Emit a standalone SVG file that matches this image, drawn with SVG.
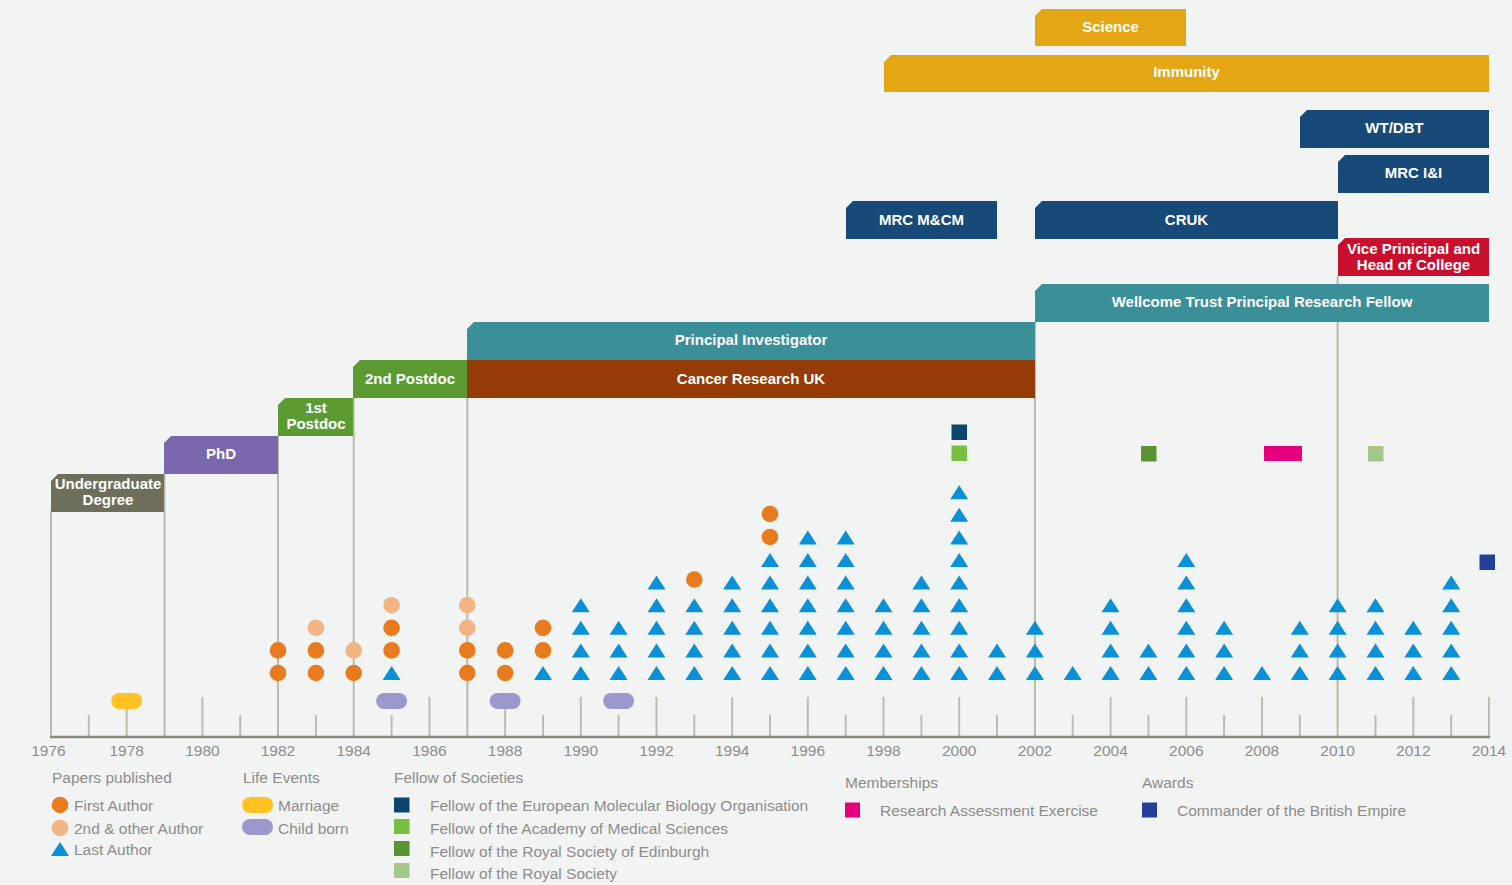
<svg xmlns="http://www.w3.org/2000/svg" width="1512" height="885" viewBox="0 0 1512 885">
<style>
.lbl{font-family:"Liberation Sans",Arial,sans-serif;font-size:15px;font-weight:bold;fill:#ffffff;text-anchor:middle}
.yr{font-family:"Liberation Sans",Arial,sans-serif;font-size:15.5px;fill:#8c8c8c;text-anchor:middle}
.lg{font-family:"Liberation Sans",Arial,sans-serif;font-size:15.5px;fill:#8c8c8c}
.guide{stroke:#b9b9ae;stroke-width:2;fill:none}
.tick{stroke:#bcbcb1;stroke-width:2}
.olive{fill:#6f6e5a}.purple{fill:#7b67ae}.green{fill:#5b9b32}.teal{fill:#3a8f98}.brown{fill:#953b08}
.navy{fill:#174a79}.gold{fill:#e5a615}.crimson{fill:#c8102e}
</style>
<defs>
<path id="tri" d="M0,-7 L9,7 L-9,7 Z" fill="#0a90d6"/>
<circle id="c1" r="8.3" fill="#e87b1e"/>
<circle id="c2" r="8.3" fill="#f3b483"/>
<rect id="pm" x="-15.5" y="-8" width="31" height="16" rx="8" fill="#ffc222"/>
<rect id="pc" x="-15.5" y="-8" width="31" height="16" rx="8" fill="#9b98cd"/>
</defs>
<rect width="1512" height="885" fill="#f2f4f3"/>

<g id="connectors">
<line class="guide" x1="51" y1="511" x2="51" y2="737"/>
<line class="guide" x1="164.5" y1="474" x2="164.5" y2="737"/>
<line class="guide" x1="278" y1="436" x2="278" y2="737"/>
<line class="guide" x1="353.7" y1="398" x2="353.7" y2="737"/>
<line class="guide" x1="467.3" y1="398" x2="467.3" y2="737"/>
<line class="guide" x1="1034.9" y1="322" x2="1034.9" y2="737"/>
<line class="guide" x1="1337.6" y1="276" x2="1337.6" y2="737"/>
</g>

<g id="axis">
<g class="tick">
<line x1="88.8" y1="715" x2="88.8" y2="737"/>
<line x1="126.7" y1="697" x2="126.7" y2="737"/>
<line x1="202.4" y1="697" x2="202.4" y2="737"/>
<line x1="240.2" y1="715" x2="240.2" y2="737"/>
<line x1="315.9" y1="715" x2="315.9" y2="737"/>
<line x1="391.6" y1="715" x2="391.6" y2="737"/>
<line x1="429.4" y1="697" x2="429.4" y2="737"/>
<line x1="505.1" y1="697" x2="505.1" y2="737"/>
<line x1="543" y1="715" x2="543" y2="737"/>
<line x1="580.8" y1="697" x2="580.8" y2="737"/>
<line x1="618.6" y1="715" x2="618.6" y2="737"/>
<line x1="656.5" y1="697" x2="656.5" y2="737"/>
<line x1="694.3" y1="715" x2="694.3" y2="737"/>
<line x1="732.2" y1="697" x2="732.2" y2="737"/>
<line x1="770" y1="715" x2="770" y2="737"/>
<line x1="807.8" y1="697" x2="807.8" y2="737"/>
<line x1="845.7" y1="715" x2="845.7" y2="737"/>
<line x1="883.5" y1="697" x2="883.5" y2="737"/>
<line x1="921.4" y1="715" x2="921.4" y2="737"/>
<line x1="959.2" y1="697" x2="959.2" y2="737"/>
<line x1="997" y1="715" x2="997" y2="737"/>
<line x1="1072.7" y1="715" x2="1072.7" y2="737"/>
<line x1="1110.6" y1="697" x2="1110.6" y2="737"/>
<line x1="1148.4" y1="715" x2="1148.4" y2="737"/>
<line x1="1186.3" y1="697" x2="1186.3" y2="737"/>
<line x1="1224.1" y1="715" x2="1224.1" y2="737"/>
<line x1="1262" y1="697" x2="1262" y2="737"/>
<line x1="1299.8" y1="715" x2="1299.8" y2="737"/>
<line x1="1375.5" y1="715" x2="1375.5" y2="737"/>
<line x1="1413.3" y1="697" x2="1413.3" y2="737"/>
<line x1="1451.2" y1="715" x2="1451.2" y2="737"/>
<line x1="1489" y1="697" x2="1489" y2="737"/>
</g>
<line x1="50" y1="737" x2="1490" y2="737" stroke="#88887a" stroke-width="2.5"/>
<text class="yr" x="48.5" y="756">1976</text>
<text class="yr" x="126.7" y="756">1978</text>
<text class="yr" x="202.4" y="756">1980</text>
<text class="yr" x="278" y="756">1982</text>
<text class="yr" x="353.7" y="756">1984</text>
<text class="yr" x="429.4" y="756">1986</text>
<text class="yr" x="505.1" y="756">1988</text>
<text class="yr" x="580.8" y="756">1990</text>
<text class="yr" x="656.5" y="756">1992</text>
<text class="yr" x="732.2" y="756">1994</text>
<text class="yr" x="807.8" y="756">1996</text>
<text class="yr" x="883.5" y="756">1998</text>
<text class="yr" x="959.2" y="756">2000</text>
<text class="yr" x="1034.9" y="756">2002</text>
<text class="yr" x="1110.6" y="756">2004</text>
<text class="yr" x="1186.3" y="756">2006</text>
<text class="yr" x="1262" y="756">2008</text>
<text class="yr" x="1337.6" y="756">2010</text>
<text class="yr" x="1413.3" y="756">2012</text>
<text class="yr" x="1489" y="756">2014</text>
</g>

<g id="life-events">
<use href="#pm" x="126.7" y="701"/>
<use href="#pc" x="391.6" y="701"/>
<use href="#pc" x="505.1" y="701"/>
<use href="#pc" x="618.6" y="701"/>
</g>

<g id="papers">
<!-- 1982 -->
<use href="#c1" x="278" y="673"/><use href="#c1" x="278" y="650.4"/>
<!-- 1983 -->
<use href="#c1" x="315.9" y="673"/><use href="#c1" x="315.9" y="650.4"/><use href="#c2" x="315.9" y="627.8"/>
<!-- 1984 -->
<use href="#c1" x="353.7" y="673"/><use href="#c2" x="353.7" y="650.4"/>
<!-- 1985 -->
<use href="#tri" x="391.6" y="673"/><use href="#c1" x="391.6" y="650.4"/><use href="#c1" x="391.6" y="627.8"/><use href="#c2" x="391.6" y="605.2"/>
<!-- 1987 -->
<use href="#c1" x="467.3" y="673"/><use href="#c1" x="467.3" y="650.4"/><use href="#c2" x="467.3" y="627.8"/><use href="#c2" x="467.3" y="605.2"/>
<!-- 1988 -->
<use href="#c1" x="505.1" y="673"/><use href="#c1" x="505.1" y="650.4"/>
<!-- 1989 -->
<use href="#tri" x="543" y="673"/><use href="#c1" x="543" y="650.4"/><use href="#c1" x="543" y="627.8"/>
<!-- 1990 -->
<use href="#tri" x="580.8" y="673"/><use href="#tri" x="580.8" y="650.4"/><use href="#tri" x="580.8" y="627.8"/><use href="#tri" x="580.8" y="605.2"/>
<!-- 1991 -->
<use href="#tri" x="618.6" y="673"/><use href="#tri" x="618.6" y="650.4"/><use href="#tri" x="618.6" y="627.8"/>
<!-- 1992 -->
<use href="#tri" x="656.5" y="673"/><use href="#tri" x="656.5" y="650.4"/><use href="#tri" x="656.5" y="627.8"/><use href="#tri" x="656.5" y="605.2"/><use href="#tri" x="656.5" y="582.6"/>
<!-- 1993 -->
<use href="#tri" x="694.3" y="673"/><use href="#tri" x="694.3" y="650.4"/><use href="#tri" x="694.3" y="627.8"/><use href="#tri" x="694.3" y="605.2"/><use href="#c1" x="694.3" y="579.5"/>
<!-- 1994 -->
<use href="#tri" x="732.2" y="673"/><use href="#tri" x="732.2" y="650.4"/><use href="#tri" x="732.2" y="627.8"/><use href="#tri" x="732.2" y="605.2"/><use href="#tri" x="732.2" y="582.6"/>
<!-- 1995 -->
<use href="#tri" x="770" y="673"/><use href="#tri" x="770" y="650.4"/><use href="#tri" x="770" y="627.8"/><use href="#tri" x="770" y="605.2"/><use href="#tri" x="770" y="582.6"/><use href="#tri" x="770" y="560"/><use href="#c1" x="770" y="537"/><use href="#c1" x="770" y="514"/>
<!-- 1996 -->
<use href="#tri" x="807.8" y="673"/><use href="#tri" x="807.8" y="650.4"/><use href="#tri" x="807.8" y="627.8"/><use href="#tri" x="807.8" y="605.2"/><use href="#tri" x="807.8" y="582.6"/><use href="#tri" x="807.8" y="560"/><use href="#tri" x="807.8" y="537.4"/>
<!-- 1997 -->
<use href="#tri" x="845.7" y="673"/><use href="#tri" x="845.7" y="650.4"/><use href="#tri" x="845.7" y="627.8"/><use href="#tri" x="845.7" y="605.2"/><use href="#tri" x="845.7" y="582.6"/><use href="#tri" x="845.7" y="560"/><use href="#tri" x="845.7" y="537.4"/>
<!-- 1998 -->
<use href="#tri" x="883.5" y="673"/><use href="#tri" x="883.5" y="650.4"/><use href="#tri" x="883.5" y="627.8"/><use href="#tri" x="883.5" y="605.2"/>
<!-- 1999 -->
<use href="#tri" x="921.4" y="673"/><use href="#tri" x="921.4" y="650.4"/><use href="#tri" x="921.4" y="627.8"/><use href="#tri" x="921.4" y="605.2"/><use href="#tri" x="921.4" y="582.6"/>
<!-- 2000 -->
<use href="#tri" x="959.2" y="673"/><use href="#tri" x="959.2" y="650.4"/><use href="#tri" x="959.2" y="627.8"/><use href="#tri" x="959.2" y="605.2"/><use href="#tri" x="959.2" y="582.6"/><use href="#tri" x="959.2" y="560"/><use href="#tri" x="959.2" y="537.4"/><use href="#tri" x="959.2" y="514.8"/><use href="#tri" x="959.2" y="492.2"/>
<!-- 2001 -->
<use href="#tri" x="997" y="673"/><use href="#tri" x="997" y="650.4"/>
<!-- 2002 -->
<use href="#tri" x="1034.9" y="673"/><use href="#tri" x="1034.9" y="650.4"/><use href="#tri" x="1034.9" y="627.8"/>
<!-- 2003 -->
<use href="#tri" x="1072.7" y="673"/>
<!-- 2004 -->
<use href="#tri" x="1110.6" y="673"/><use href="#tri" x="1110.6" y="650.4"/><use href="#tri" x="1110.6" y="627.8"/><use href="#tri" x="1110.6" y="605.2"/>
<!-- 2005 -->
<use href="#tri" x="1148.4" y="673"/><use href="#tri" x="1148.4" y="650.4"/>
<!-- 2006 -->
<use href="#tri" x="1186.3" y="673"/><use href="#tri" x="1186.3" y="650.4"/><use href="#tri" x="1186.3" y="627.8"/><use href="#tri" x="1186.3" y="605.2"/><use href="#tri" x="1186.3" y="582.6"/><use href="#tri" x="1186.3" y="560"/>
<!-- 2007 -->
<use href="#tri" x="1224.1" y="673"/><use href="#tri" x="1224.1" y="650.4"/><use href="#tri" x="1224.1" y="627.8"/>
<!-- 2008 -->
<use href="#tri" x="1262" y="673"/>
<!-- 2009 -->
<use href="#tri" x="1299.8" y="673"/><use href="#tri" x="1299.8" y="650.4"/><use href="#tri" x="1299.8" y="627.8"/>
<!-- 2010 -->
<use href="#tri" x="1337.6" y="673"/><use href="#tri" x="1337.6" y="650.4"/><use href="#tri" x="1337.6" y="627.8"/><use href="#tri" x="1337.6" y="605.2"/>
<!-- 2011 -->
<use href="#tri" x="1375.5" y="673"/><use href="#tri" x="1375.5" y="650.4"/><use href="#tri" x="1375.5" y="627.8"/><use href="#tri" x="1375.5" y="605.2"/>
<!-- 2012 -->
<use href="#tri" x="1413.3" y="673"/><use href="#tri" x="1413.3" y="650.4"/><use href="#tri" x="1413.3" y="627.8"/>
<!-- 2013 -->
<use href="#tri" x="1451.2" y="673"/><use href="#tri" x="1451.2" y="650.4"/><use href="#tri" x="1451.2" y="627.8"/><use href="#tri" x="1451.2" y="605.2"/><use href="#tri" x="1451.2" y="582.6"/>
</g>

<g id="honours">
<rect x="951.5" y="424.5" width="15.5" height="15.5" fill="#0b4670"/>
<rect x="951.5" y="445.5" width="15.5" height="15.5" fill="#79bf3f"/>
<rect x="1141" y="446" width="15.5" height="15.5" fill="#5a9432"/>
<rect x="1264" y="446" width="38" height="15" fill="#e6007e"/>
<rect x="1368" y="446" width="15.5" height="15.5" fill="#a6c58b"/>
<rect x="1479.5" y="554.5" width="15.5" height="15.5" fill="#233f99"/>
</g>

<g id="science"><path class="gold" d="M1042,9 H1186 V46 H1035 V16 Z"/><text class="lbl" x="1110.5" y="31.5">Science</text></g>
<g id="immunity"><path class="gold" d="M891,55 H1489 V92 H884 V62 Z"/><text class="lbl" x="1186.5" y="77">Immunity</text></g>
<g id="wt-dbt"><path class="navy" d="M1307,110 H1489 V148 H1300 V117 Z"/><text class="lbl" x="1394.5" y="133">WT/DBT</text></g>
<g id="mrc-ii"><path class="navy" d="M1345,155 H1489 V193 H1338 V162 Z"/><text class="lbl" x="1413.5" y="178">MRC I&amp;I</text></g>
<g id="mrc-mcm"><path class="navy" d="M853,201 H997 V239 H846 V208 Z"/><text class="lbl" x="921.5" y="225">MRC M&amp;CM</text></g>
<g id="cruk"><path class="navy" d="M1042,201 H1338 V239 H1035 V208 Z"/><text class="lbl" x="1186.5" y="225">CRUK</text></g>
<g id="vice-principal"><path class="crimson" d="M1345,238 H1489 V276 H1338 V245 Z"/><text class="lbl" x="1413.5" y="254">Vice Prinicipal and</text><text class="lbl" x="1413.5" y="270">Head of College</text></g>
<g id="wellcome"><path class="teal" d="M1042,284 H1489 V322 H1035 V291 Z"/><text class="lbl" x="1262" y="307">Wellcome Trust Principal Research Fellow</text></g>
<g id="principal-investigator"><path class="teal" d="M474,322 H1035 V360 H467 V329 Z"/><text class="lbl" x="751" y="345">Principal Investigator</text></g>
<g id="cancer-research-uk"><rect class="brown" x="467" y="360" width="568" height="38"/><text class="lbl" x="751" y="384">Cancer Research UK</text></g>
<g id="postdoc2"><path class="green" d="M360,360 H467 V398 H353 V367 Z"/><text class="lbl" x="410" y="384">2nd Postdoc</text></g>
<g id="postdoc1"><path class="green" d="M285,398 H353 V436 H278 V405 Z"/><text class="lbl" x="316" y="413">1st</text><text class="lbl" x="316" y="429">Postdoc</text></g>
<g id="phd"><path class="purple" d="M171,436 H278 V474 H164 V443 Z"/><text class="lbl" x="221" y="459">PhD</text></g>
<g id="undergraduate"><path class="olive" d="M58,474 H164 V512 H51 V481 Z"/><text class="lbl" x="108" y="489">Undergraduate</text><text class="lbl" x="108" y="505">Degree</text></g>

<g id="legend">
<text class="lg" x="52" y="783">Papers published</text>
<use href="#c1" x="60" y="805"/><text class="lg" x="74" y="811">First Author</text>
<use href="#c2" x="60" y="828"/><text class="lg" x="74" y="834">2nd &amp; other Author</text>
<use href="#tri" x="60" y="849"/><text class="lg" x="74" y="855">Last Author</text>

<text class="lg" x="243" y="783">Life Events</text>
<use href="#pm" x="257.5" y="805"/><text class="lg" x="278" y="811">Marriage</text>
<use href="#pc" x="257.5" y="827"/><text class="lg" x="278" y="834">Child born</text>

<text class="lg" x="394" y="783">Fellow of Societies</text>
<rect x="394" y="797.5" width="15.5" height="15" fill="#0b4670"/><text class="lg" x="430" y="811">Fellow of the European Molecular Biology Organisation</text>
<rect x="394" y="819" width="15.5" height="15" fill="#79bf3f"/><text class="lg" x="430" y="834">Fellow of the Academy of Medical Sciences</text>
<rect x="394" y="841" width="15.5" height="15" fill="#5a9432"/><text class="lg" x="430" y="857">Fellow of the Royal Society of Edinburgh</text>
<rect x="394" y="863" width="15.5" height="15" fill="#a6c58b"/><text class="lg" x="430" y="879">Fellow of the Royal Society</text>

<text class="lg" x="845" y="788">Memberships</text>
<rect x="845" y="802.5" width="15" height="15" fill="#e6007e"/><text class="lg" x="880" y="816">Research Assessment Exercise</text>

<text class="lg" x="1142" y="788">Awards</text>
<rect x="1142" y="802.5" width="15" height="15" fill="#233f99"/><text class="lg" x="1177" y="816">Commander of the British Empire</text>
</g>
</svg>
